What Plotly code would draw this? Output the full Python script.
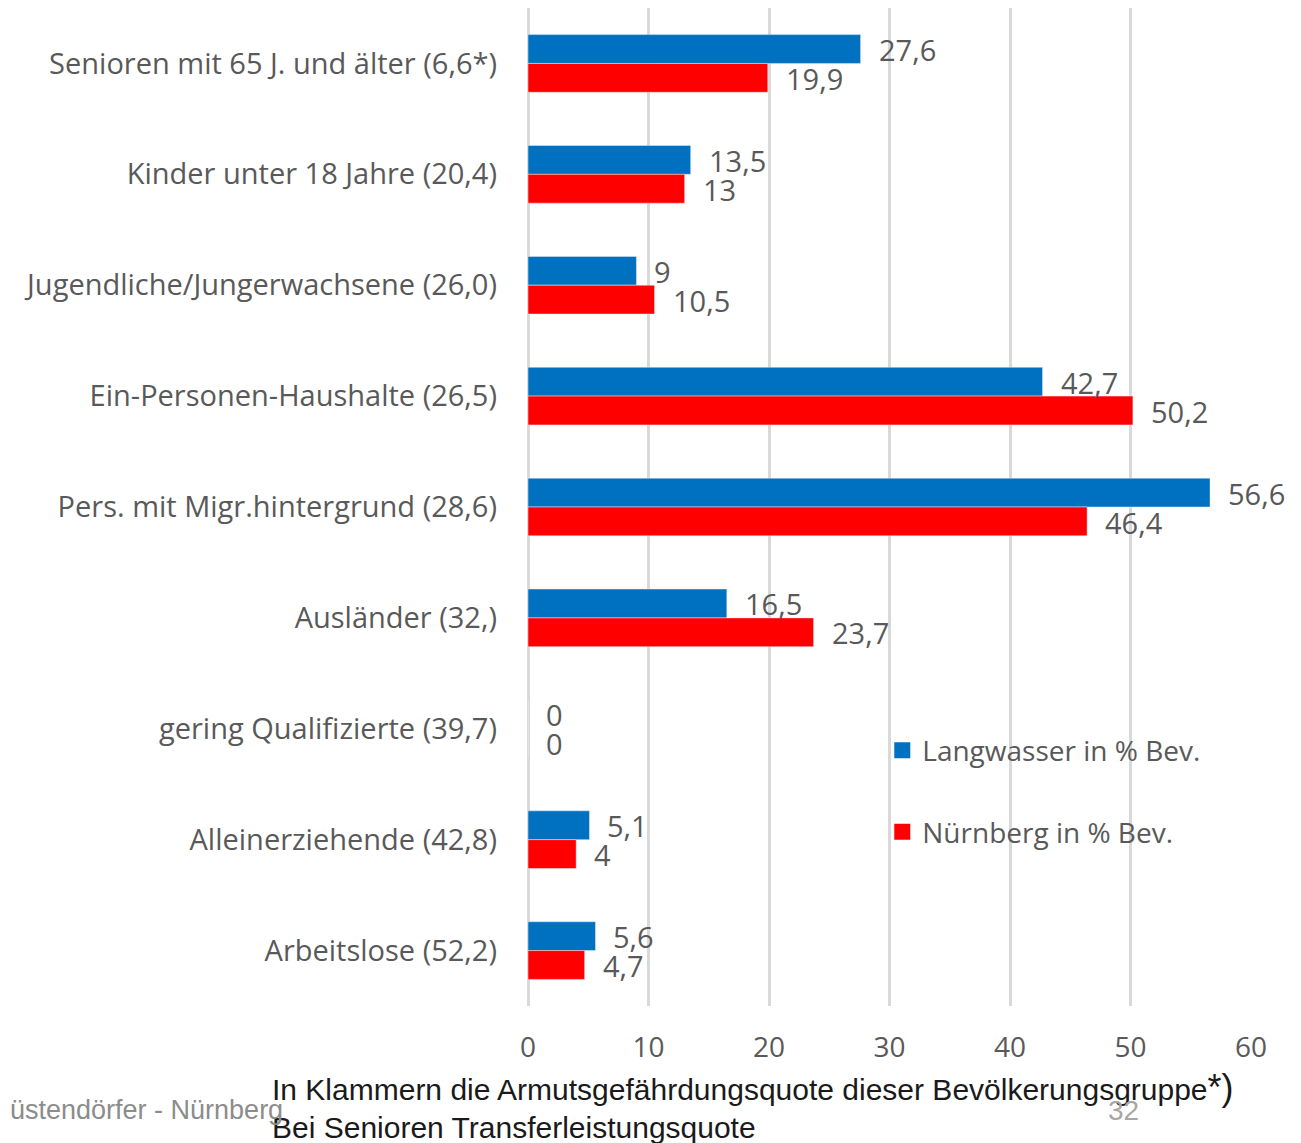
import plotly.graph_objects as go

categories = [
    "Senioren mit 65 J. und älter (6,6*)",
    "Kinder unter 18 Jahre (20,4)",
    "Jugendliche/Jungerwachsene (26,0)",
    "Ein-Personen-Haushalte (26,5)",
    "Pers. mit Migr.hintergrund (28,6)",
    "Ausländer (32,)",
    "gering Qualifizierte (39,7)",
    "Alleinerziehende (42,8)",
    "Arbeitslose (52,2)",
]
langwasser = [27.6, 13.5, 9, 42.7, 56.6, 16.5, 0, 5.1, 5.6]
nuernberg = [19.9, 13, 10.5, 50.2, 46.4, 23.7, 0, 4, 4.7]
x_ticks = [0, 10, 20, 30, 40, 50, 60]

BLUE = "#0070c0"
RED = "#ff0000"
GREY = "#595959"
FONT = "Open Sans, Noto Sans, sans-serif"


def fmt(v):
    return f"{v:g}".replace(".", ",")


fig = go.Figure()
fig.add_trace(go.Bar(y=categories, x=langwasser, orientation="h",
                     name="Langwasser in % Bev.", marker_color=BLUE,
                     showlegend=False))
fig.add_trace(go.Bar(y=categories, x=nuernberg, orientation="h",
                     name="Nürnberg in % Bev.", marker_color=RED,
                     showlegend=False))
# legend-only entries with bigger square swatches
for name, col, grp in (("Langwasser in % Bev.", BLUE, "a"),
                       ("Nürnberg in % Bev.", RED, "b")):
    fig.add_trace(go.Scatter(x=[None], y=[None], mode="markers", name=name,
                             legendgroup=grp,
                             marker=dict(symbol="square", size=18, color=col)))

# value labels next to bar ends
for cat, a, b in zip(categories, langwasser, nuernberg):
    for v, shift in ((a, 14), (b, -15)):
        fig.add_annotation(x=v, y=cat, text=fmt(v), showarrow=False,
                           xanchor="left", xshift=16, yshift=shift,
                           font=dict(size=29, color=GREY, family=FONT))


# footnote and slide footer (paper coords, plot spans x 528..1251, y 8..1006 in the window)
def px(x):
    return (x - 528) / 723


def py(y):
    return (1006 - y) / 998


narrow = "Liberation Sans Narrow, Arial Narrow, Liberation Sans, sans-serif"
fig.add_annotation(x=px(270), y=py(1087), xref="paper", yref="paper",
                   text="In Klammern die Armutsgefährdungsquote dieser Bevölkerungsgruppe<span style='font-size:36px'>*)</span>",
                   showarrow=False, xanchor="left", yanchor="middle",
                   font=dict(size=30, color="#1a1a1a", family=narrow))
fig.add_annotation(x=px(270), y=py(1127), xref="paper", yref="paper",
                   text="Bei Senioren Transferleistungsquote",
                   showarrow=False, xanchor="left", yanchor="middle",
                   font=dict(size=30, color="#1a1a1a", family=narrow))
fig.add_annotation(x=px(8), y=py(1110), xref="paper", yref="paper",
                   text="üstendörfer - Nürnberg", showarrow=False,
                   xanchor="left", yanchor="middle",
                   font=dict(size=27, color="#8c8c8c", family=narrow))
fig.add_annotation(x=px(1123), y=py(1110), xref="paper", yref="paper",
                   text="32", showarrow=False, xanchor="center", yanchor="middle",
                   font=dict(size=28, color="#a6a6a6", family=narrow))

fig.update_layout(
    width=1293, height=1135,
    margin=dict(l=520, r=50, t=0, b=137),
    plot_bgcolor="white", paper_bgcolor="white",
    barmode="group", bargap=0.48, bargroupgap=0,
    font=dict(family=FONT, color=GREY, size=28),
    legend=dict(x=0.49, y=0.281, xanchor="left", yanchor="top",
                font=dict(size=28, color=GREY), tracegroupgap=42,
                itemsizing="trace", bgcolor="rgba(0,0,0,0)"),
)
fig.update_xaxes(range=[0, 60], tickvals=x_ticks, showgrid=True,
                 gridcolor="#d9d9d9", gridwidth=3, zeroline=True,
                 zerolinecolor="#d9d9d9", zerolinewidth=3,
                 ticklabelstandoff=22, tickfont=dict(size=28, color=GREY))
fig.update_yaxes(autorange="reversed", showgrid=False, showline=False,
                 ticklabelstandoff=30, tickfont=dict(size=29, color=GREY))

fig.write_html("out.html")
